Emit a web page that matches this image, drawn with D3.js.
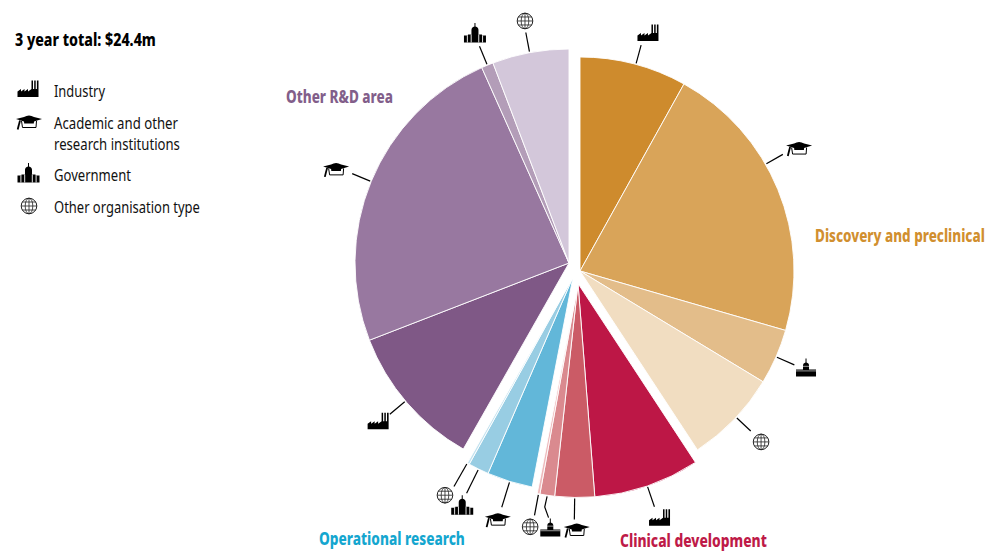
<!DOCTYPE html>
<html><head><meta charset="utf-8">
<style>html,body{margin:0;padding:0;background:#fff;overflow:hidden}svg{display:block}text{font-family:"Noto Sans",sans-serif}</style>
<script src="https://cdn.jsdelivr.net/npm/d3@7/dist/d3.min.js"></script>
</head><body><svg id="c" width="987" height="552"></svg>
<script>
// DATA ($m)
const chartTitle = "3 year total: $24.4m";
const groupNames = ["Discovery and preclinical","Clinical development","Operational research","Other R&D area"];
const groupColors = ["#D18F2F","#BE1A48","#14A6CF","#825E8A"];
const sliceGroup = [0,0,0,0, 1,1,1,1, 2,2,2, 3,3,3,3];
const sliceOrg   = ["factory","cap","capitol","globe", "factory","cap","capitol","globe", "cap","capitolB","globe", "factory","cap","capitolB","globe"];
const sliceValue = [1.97,5.22,1.02,1.73, 1.95,0.73,0.27,0.05, 0.84,0.38,0.04, 2.66,5.90,0.22,1.41];
const sliceColor = ["#CE8B2D","#D9A459","#E3BD8A","#F1DDC1", "#BD1746","#CB5B66","#DA8A8F","#EDB9BB", "#62B7D9","#98CDE3","#C3E2EF", "#7F5886","#9878A0","#B39DB8","#D3C7DA"];

// LAYOUT
const R = 214;
const groupCentre = [[580,271],[578,283.5],[573,277],[569,263]];
const leaderOuter = [234,236,241,234.5];
const leaderNudge = [0.6,-7.5,0,-0.8,0,0,0,0,0,0,0.3,0.6,0,0,-0.2];
const iconRadius  = [247.5,251,246,249,248,246.5,246,248,254,253.6,253,248,251,248.5,246];
const iconNudge   = [1.4,-6.8,-0.4,-0.6,-0.3,-0.6,-1.8,0.5,0,-0.3,1.1,1.1,-0.5,0.2,0.1];

const svg = d3.select("#c");
const defs = svg.append("defs");
const sym = id => defs.append("g").attr("id",id);

const f = sym("factory");
f.append("path").attr("d","M-10.5,8V2.5L-7,0V2.5L-3.5,0V2.5L0,0V2.5L3.5,0V-8.5H5V0H6.2V-8.5H7.7V0H8.9V-8.5H10.5V8Z").attr("fill","#000");

const c = sym("cap");
c.append("path").attr("d","M-13,-3L-5,-5Q0,-8 5,-5L13,-3L5,-0.5L4.8,1.5H-4.8L-5,-0.5Z").attr("fill","#000");
c.append("path").attr("d","M-7.5,-1L-6.5,5.5H7L7.5,-1").attr("fill","none").attr("stroke","#000").attr("stroke-width",1);
c.append("path").attr("d","M-9,-1.5L-11.3,7.5").attr("stroke","#000").attr("stroke-width",1.8).attr("fill","none");

const k = sym("capitol");
k.append("path").attr("d","M-10,1.5H-3V-3Q-3,-5 -0.5,-5.5V-9.5H0.5V-5.5Q3,-5 3,-3V1.5H10V8.5H-10Z").attr("fill","#000");
k.append("path").attr("d","M-3.2,-1.8H3.2M-10,2.8H10").attr("stroke","#fff").attr("stroke-width",0.6);

const kb = sym("capitolB");
kb.append("path").attr("d","M-11,2.5H-7V1.5H-3.5V-3Q-3.5,-6 -0.5,-6.5V-10H0.5V-6.5Q3.5,-6 3.5,-3V1.5H7V2.5H11V9.5H-11Z").attr("fill","#000");
kb.append("path").attr("d","M-7.6,2.5V9.5M-3.8,1.5V9.5M3.8,1.5V9.5M7.6,2.5V9.5").attr("stroke","#fff").attr("stroke-width",0.9);

const g = sym("globe");
g.append("circle").attr("r",7.8).attr("fill","#fff").attr("stroke","#222").attr("stroke-width",1);
g.append("path").attr("d","M0,-7.8V7.8M-7.8,0H7.8M-6.7,-4H6.7M-6.7,4H6.7").attr("stroke","#222").attr("stroke-width",0.8).attr("fill","none");
g.append("ellipse").attr("rx",3.8).attr("ry",7.8).attr("fill","none").attr("stroke","#222").attr("stroke-width",0.8);

// PIE
const pie = d3.pie().value(d=>d).sort(null)(sliceValue);
const arc = d3.arc().innerRadius(0).outerRadius(R);
const polar = (i,deg,r)=>{const a=deg*Math.PI/180,ce=groupCentre[sliceGroup[i]];return [ce[0]+r*Math.sin(a),ce[1]-r*Math.cos(a)];};

svg.append("g").selectAll("path").data(pie).join("path")
  .attr("transform",(d,i)=>`translate(${groupCentre[sliceGroup[i]]})`)
  .attr("d",arc).attr("fill",(d,i)=>sliceColor[i]).attr("stroke","#fff").attr("stroke-width",0.9);

const line = d3.line();
const leaders = svg.append("g");
pie.forEach((d,i)=>{
  const mid=(d.startAngle+d.endAngle)/2*180/Math.PI, a=mid+leaderNudge[i];
  const out=leaderOuter[sliceGroup[i]];
  let pts=[polar(i,a,R+1),polar(i,a,out)];
  if(i===6) pts=[polar(i,a,R+1),polar(i,a+0.2,R+12),polar(i,a-1.1,out)];
  leaders.append("path").attr("d",line(pts)).attr("fill","none").attr("stroke","#000").attr("stroke-width",1.2);
  const p=polar(i,mid+iconNudge[i],iconRadius[i]);
  leaders.append("use").attr("href","#"+sliceOrg[i]).attr("transform",`translate(${p})`);
});

// TEXT: condensed by horizontal scaling to the measured width
function label(t,x,y,w,size,weight,fill){
  const n=svg.append("text").attr("font-size",size).attr("font-weight",weight).attr("fill",fill).text(t);
  const sx=w/n.node().getComputedTextLength();
  n.attr("transform",`translate(${x},${y}) scale(${sx},1)`);
}
label(chartTitle,15,45.5,141,17.5,800,"#000");
label("Industry",54,97,51,16.5,400,"#111");
label("Academic and other",54,129,124,16.5,400,"#111");
label("research institutions",54,150,126,16.5,400,"#111");
label("Government",54,181,77,16.5,400,"#111");
label("Other organisation type",54,213,146,16.5,400,"#111");
label(groupNames[3],286,103,107,18,800,groupColors[3]);
label(groupNames[0],815,242,170,18,800,groupColors[0]);
label(groupNames[2],319,545,146,18,800,groupColors[2]);
label(groupNames[1],620,547,147,18,800,groupColors[1]);

[["factory",28,89],["cap",29,122],["capitolB",28.5,173],["globe",29,206]].forEach(([id,x,y])=>{
  svg.append("use").attr("href","#"+id).attr("transform",`translate(${x},${y})`);
});
</script></body></html>
